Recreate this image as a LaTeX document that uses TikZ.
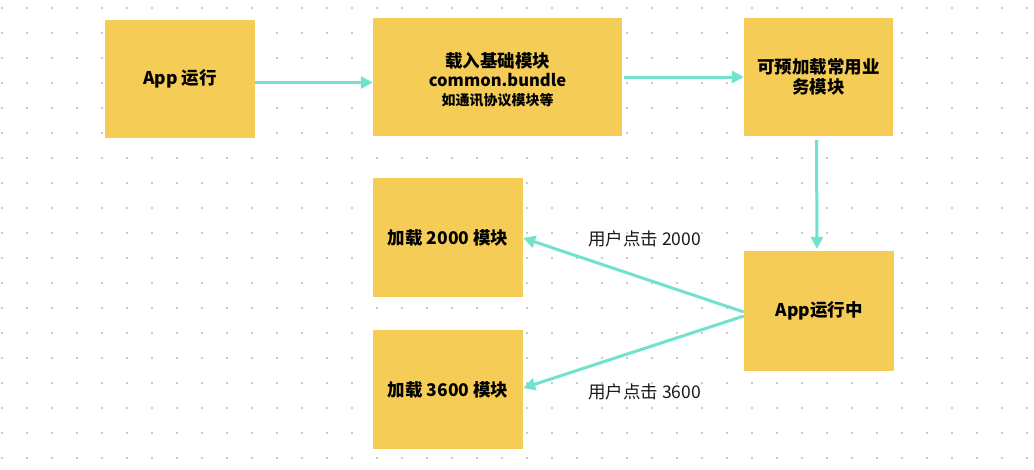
\documentclass[tikz,border=0pt]{standalone}
\usepackage{fontspec}
\setmainfont{Noto Sans CJK SC}
\usetikzlibrary{arrows.meta}
\definecolor{boxy}{HTML}{F5CD56}
\definecolor{teal1}{HTML}{70E2CE}
\definecolor{dotg}{HTML}{CACACA}
\definecolor{txt}{HTML}{1A1A1A}
\tikzset{
  x=1pt,y=-1pt,
  ybox/.style={fill=boxy,draw=none,inner sep=0pt,align=center,text=black,
    font=\bfseries\fontsize{17.5}{20}\selectfont},
  arr/.style={draw=teal1,line width=3pt,-{Triangle[length=12pt,width=12pt]}},
  lbl/.style={text=txt,font=\fontsize{17.5}{20}\selectfont,inner sep=0pt}
}
\begin{document}
\begin{tikzpicture}
\useasboundingbox (0,0) rectangle (1034,469);
\fill[white] (0,0) rectangle (1034,469);
\foreach \i in {0,...,41}{
  \foreach \j in {0,...,18}{
    \fill[dotg] ({1+25*\i},{6.5+25*\j}) rectangle ++(2,2);
  }
}
\node[ybox,minimum width=150pt,minimum height=118pt] (A) at (180,79) {App 运行};
\node[ybox,minimum width=249pt,minimum height=118pt] (B) at (497.5,77) {};
\node[ybox,anchor=center] (Bt) at (497.5,79.5)
  {载入基础模块\\[-1pt]{\fontsize{16.5}{20}\selectfont common.bundle}\\[-1pt]{\fontsize{14}{16}\selectfont 如通讯协议模块等}};
\node[ybox,minimum width=149pt,minimum height=118pt] (C) at (818.5,77) {可预加载常用业\\务模块};
\node[ybox,minimum width=150pt,minimum height=120pt] (D) at (819,311) {App运行中};
\node[ybox,minimum width=150pt,minimum height=119pt] (E) at (448,237.5) {加载 2000 模块};
\node[ybox,minimum width=150pt,minimum height=119pt] (F) at (448,389.5) {加载 3600 模块};

\draw[arr] ([yshift=-3.5pt]A.east) -- ([yshift=-3.5pt]A.east -| B.west);
\draw[arr] ([xshift=2pt]B.east) -- (C.west);
\draw[arr] ([xshift=-2pt,yshift=-4pt]C.south) -- ([xshift=-2pt,yshift=2pt]D.north);
\draw[arr] ([yshift=-1pt]D.west) -- ([yshift=-0.5pt]E.east);
\draw[arr] ([yshift=-5pt]D.west) -- ([yshift=1.5pt]F.east);

\node[lbl] (L1) at (644.5,239) {用户点击 2000};
\node[lbl] (L2) at (644.5,392) {用户点击 3600};
\end{tikzpicture}
\end{document}
